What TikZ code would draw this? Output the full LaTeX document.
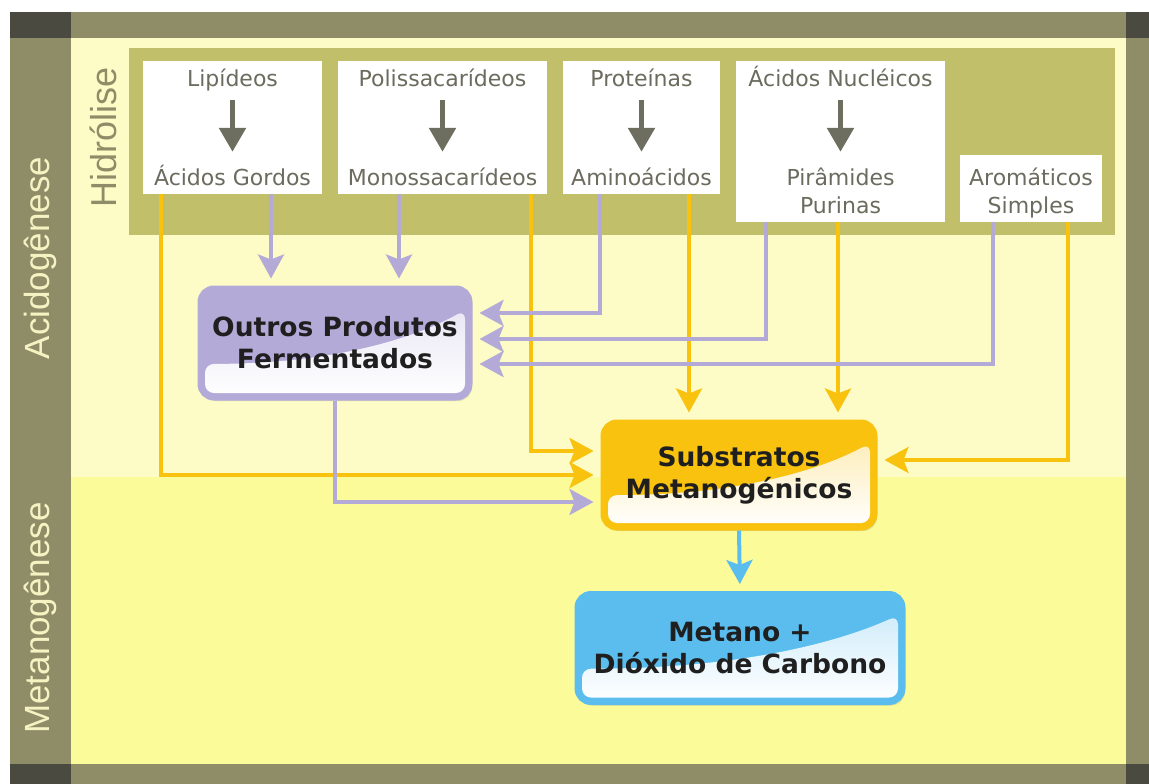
\documentclass[tikz,border=0pt]{standalone}
\usepackage{fontspec}
\setmainfont{DejaVu Sans}
\newfontfamily\phasefont{Liberation Sans}
\usetikzlibrary{arrows.meta,calc,shadows}

\definecolor{framedark}{HTML}{4B4A40}
\definecolor{frameolive}{HTML}{8E8D68}
\definecolor{lightbg}{HTML}{FDFCC6}
\definecolor{yellowbg}{HTML}{FCFB9A}
\definecolor{panelgreen}{HTML}{C1BF6A}
\definecolor{phasetext}{HTML}{F5F3C2}
\definecolor{labelgray}{HTML}{6B6B5E}
\definecolor{arrowgray}{HTML}{6E6E60}
\definecolor{fermpurple}{HTML}{B4AAD8}
\definecolor{substorange}{HTML}{F8C20F}
\definecolor{metblue}{HTML}{5BBDEE}

\tikzset{
	wbox/.style={fill=white, inner sep=0pt},
	lbl/.style={font=\fontsize{22}{26}\selectfont, text=labelgray, inner sep=0pt, text height=16pt, text depth=5pt},
	inarrow/.style={-{Triangle[length=24pt,width=26pt]}, line width=5.5pt, draw=arrowgray},
	phase/.style={font=\phasefont\fontsize{35}{40}\selectfont, rotate=90, inner sep=0pt},
	procbox/.style={draw=#1, fill=#1, line width=5pt, rounded corners=14pt, align=center,
		font=\bfseries\fontsize{26.5}{32}\selectfont, text=black!88,
		drop shadow={opacity=0.25, shadow xshift=2pt, shadow yshift=-3pt},
		path picture={
			\shade[top color=#1!35!white, bottom color=white, rounded corners=9pt]
				let \p1=(path picture bounding box.south west), \p2=(path picture bounding box.north east) in
				(\x1+5pt,\y1+5pt) -- (\x1+5pt,{\y1+0.31*(\y2-\y1)})
				.. controls ({\x1+0.5*(\x2-\x1)},{\y1+0.31*(\y2-\y1)}) and ({\x1+0.8*(\x2-\x1)},{\y1+0.55*(\y2-\y1)}) ..
				(\x2-5pt,{\y1+0.8*(\y2-\y1)}) -- (\x2-5pt,\y1+5pt) -- cycle;
		}},
	flow/.style={line width=4pt, draw=#1, shorten >=7pt, -{Stealth[length=24pt,width=26pt,inset=5pt]}},
}

\begin{document}
\begin{tikzpicture}[x=1pt, y=-1pt]
	\useasboundingbox (0,0) rectangle (1149,784);
	\fill[white] (0,0) rectangle (1149,784);

	% fundo e moldura
	\fill[lightbg] (71,38) rectangle (1126,477);
	\fill[yellowbg] (71,477) rectangle (1126,764);
	\fill[frameolive] (10,12) rectangle (1149,38);
	\fill[frameolive] (10,38) rectangle (71,764);
	\fill[frameolive] (1126,38) rectangle (1149,764);
	\fill[frameolive] (10,764) rectangle (1149,784);
	\fill[framedark] (10,12) rectangle (71,38);
	\fill[framedark] (1126,12) rectangle (1149,38);
	\fill[framedark] (10,764) rectangle (71,784);
	\fill[framedark] (1126,764) rectangle (1149,784);
	\fill[panelgreen] (129,48) rectangle (1115,235);

	\node[phase, text=phasetext] (acido) at (40,258) {Acidogênese};
	\node[phase, text=phasetext] (metan) at (40,618) {Metanogênese};
	\node[phase, text=frameolive, font=\phasefont\fontsize{36}{40}\selectfont] (hidro) at (103,137) {Hidrólise};

	% hidrolise
	\node[wbox, minimum width=179pt, minimum height=133pt] (lip) at (232.5,127.5) {};
	\node[wbox, minimum width=209pt, minimum height=133pt] (poli) at (442.5,127.5) {};
	\node[wbox, minimum width=157pt, minimum height=133pt] (prot) at (641.5,127.5) {};
	\node[wbox, minimum width=209pt, minimum height=161pt] (acnuc) at (840.5,141.5) {};
	\node[wbox, minimum width=142pt, minimum height=67pt] (arom) at (1031,188.5) {};

	\node[lbl] (lipA) at (232.5,81) {Lipídeos};
	\node[lbl] (lipB) at (232.5,180) {Ácidos Gordos};
	\node[lbl] (poliA) at (442.5,81) {Polissacarídeos};
	\node[lbl] (poliB) at (442.5,180) {Monossacarídeos};
	\node[lbl] (protA) at (641.5,81) {Proteínas};
	\node[lbl] (protB) at (641.5,180) {Aminoácidos};
	\node[lbl] (acnucA) at (840.5,81) {Ácidos Nucléicos};
	\node[lbl] (acnucB) at (840.5,180) {Pirâmides};
	\node[lbl] (acnucC) at (840.5,208) {Purinas};
	\node[lbl] (aromA) at (1031,180) {Aromáticos};
	\node[lbl] (aromB) at (1031,208) {Simples};

	\foreach \a in {lip,poli,prot,acnuc}
		\draw[inarrow, shorten <=8.5pt, shorten >=17.5pt] (\a A) -- (\a B);

	% produtos
	\node[procbox=fermpurple, minimum width=270pt, minimum height=110pt] (outros) at (335,343) {Outros Produtos\\Fermentados};
	\node[procbox=substorange, minimum width=272pt, minimum height=106pt] (subst) at (739,475) {Substratos\\Metanogénicos};
	\node[procbox=metblue, minimum width=326pt, minimum height=109pt] (metano) at (740,648) {Metano +\\Dióxido de Carbono};

	% ligacoes
	\draw[flow=substorange] ($(lip.south)+(-71.5,0)$) |- (subst.west);
	\draw[flow=substorange] ($(poli.south)+(88.5,0)$) |- ($(subst.west)+(0,-24)$);
	\draw[flow=substorange] ($(prot.south)+(47.5,0)$) -- ($(subst.north)+(-50,0)$);
	\draw[flow=substorange] ($(acnuc.south)+(-2.5,0)$) -- ($(subst.north)+(99,0)$);
	\draw[flow=substorange] ($(arom.south)+(37,0)$) |- ($(subst.east)+(0,-15)$);

	\draw[flow=fermpurple] ($(lip.south)+(38.5,0)$) -- ($(outros.north)+(-64,0)$);
	\draw[flow=fermpurple] ($(poli.south)+(-43.5,0)$) -- ($(outros.north)+(64,0)$);
	\draw[flow=fermpurple] ($(prot.south)+(-41.5,0)$) |- ($(outros.east)+(0,-30)$);
	\draw[flow=fermpurple] ($(acnuc.south)+(-74.5,0)$) |- ($(outros.east)+(0,-4)$);
	\draw[flow=fermpurple] ($(arom.south)+(-38,0)$) |- ($(outros.east)+(0,21)$);
	\draw[flow=fermpurple] (outros.south) |- ($(subst.west)+(0,27)$);

	\draw[flow=metblue] (subst.south) -- (metano.north);
\end{tikzpicture}
\end{document}
